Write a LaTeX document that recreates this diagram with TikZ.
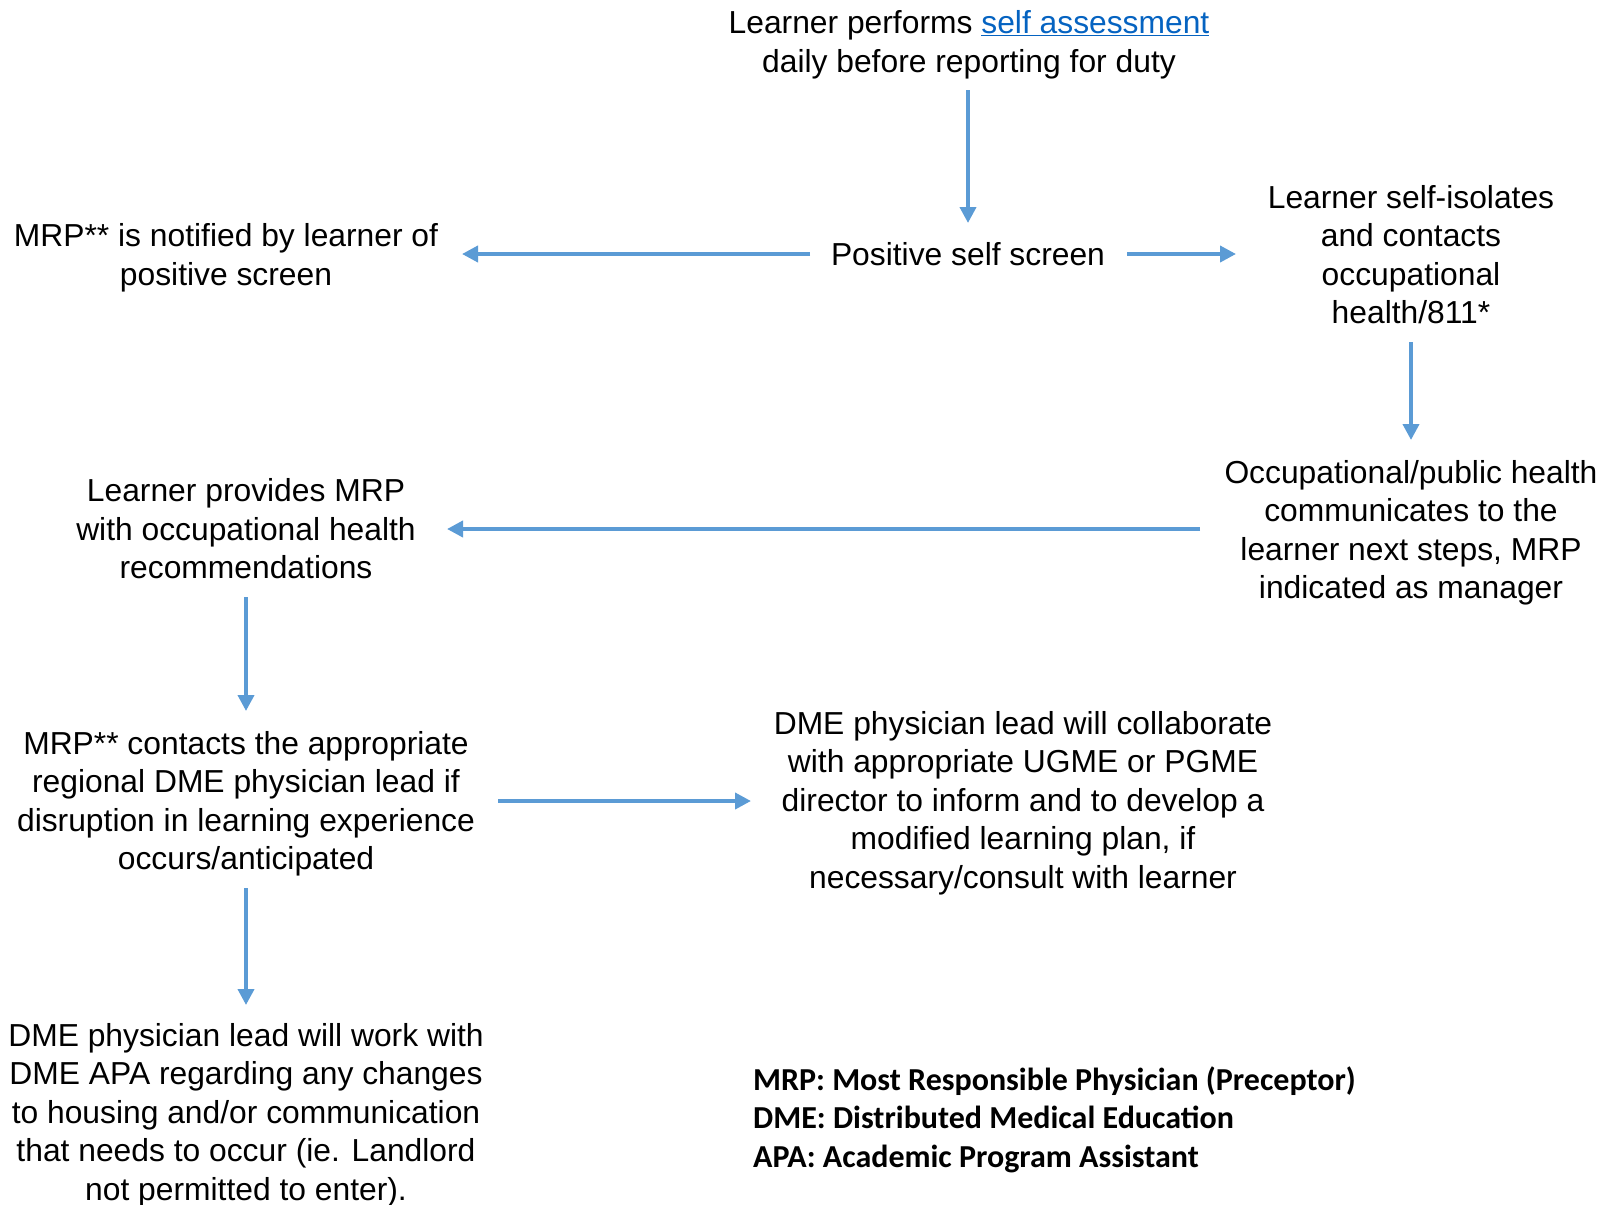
\documentclass[tikz,border=0pt]{standalone}
\usepackage{fontspec}
\setmainfont{Liberation Sans}
\newfontfamily\legendfont{Carlito}
\usetikzlibrary{arrows.meta}
\definecolor{arrowblue}{HTML}{5B9BD5}
\definecolor{linkblue}{HTML}{0563C1}
\begin{document}
\begin{tikzpicture}[x=1pt,y=-1pt,
  txt/.style={align=center,inner sep=0pt,font=\fontsize{31.8}{38.5}\selectfont},
  flow/.style={draw=arrowblue,line width=3.8pt,-{Triangle[length=16pt,width=16pt]}},
  legend/.style={align=left,inner sep=0pt,anchor=west,font=\legendfont\bfseries\fontsize{32}{38.5}\selectfont}]
\useasboundingbox (0,0) rectangle (1604,1205);
\node[txt] (start) at (969,45) {Learner performs {\color{linkblue}\underline{self assessment}}\\daily before reporting for duty};
\node[txt] (pos) at (968,254) {Positive self screen};
\node[txt] (notify) at (226,258) {MRP** is notified by learner of\\positive screen};
\node[txt] (iso) at (1411,254.5) {Learner self-isolates\\and contacts\\occupational\\health/811*};
\node[txt] (occ) at (1411,533) {Occupational/public health\\communicates to the\\learner next steps, MRP\\indicated as manager};
\node[txt] (prov) at (246,529) {Learner provides MRP\\with occupational health\\recommendations};
\node[txt] (contact) at (246,804) {MRP** contacts the appropriate\\regional DME physician lead if\\disruption in learning experience\\occurs/anticipated};
\node[txt] (collab) at (1023,803) {DME physician lead will collaborate\\with appropriate UGME or PGME\\director to inform and to develop a\\modified learning plan, if\\necessary/consult with learner};
\node[txt] (work) at (246,1115) {DME physician lead will work with\\DME APA regarding any changes\\to housing and/or communication\\that needs to occur (ie. Landlord\\not permitted to enter).};
\node[legend] (leg) at (753,1119.5) {MRP: Most Responsible Physician (Preceptor)\\DME: Distributed Medical Education\\APA: Academic Program Assistant};
\draw[flow,shorten <=45pt,shorten >=31pt] (pos.center |- start.center) -- (pos.center);
\draw[flow,shorten <=158pt,shorten >=236pt] (pos.center) -- (pos.center -| notify.center);
\draw[flow,shorten <=159pt,shorten >=175pt] (pos.center) -- (pos.center -| iso.center);
\draw[flow,shorten <=87.5pt,shorten >=93pt] (iso.center) -- (occ.center);
\draw[flow,shorten <=211pt,shorten >=201pt] (occ.center |- prov.center) -- (prov.center);
\draw[flow,shorten <=68pt,shorten >=93pt] (prov.center) -- (contact.center);
\draw[flow,shorten <=252pt,shorten >=272pt] ([yshift=3pt]contact.center) -- ([yshift=3pt]contact.center -| collab.center);
\draw[flow,shorten <=84pt,shorten >=110pt] (contact.center) -- (work.center);
\end{tikzpicture}
\end{document}
